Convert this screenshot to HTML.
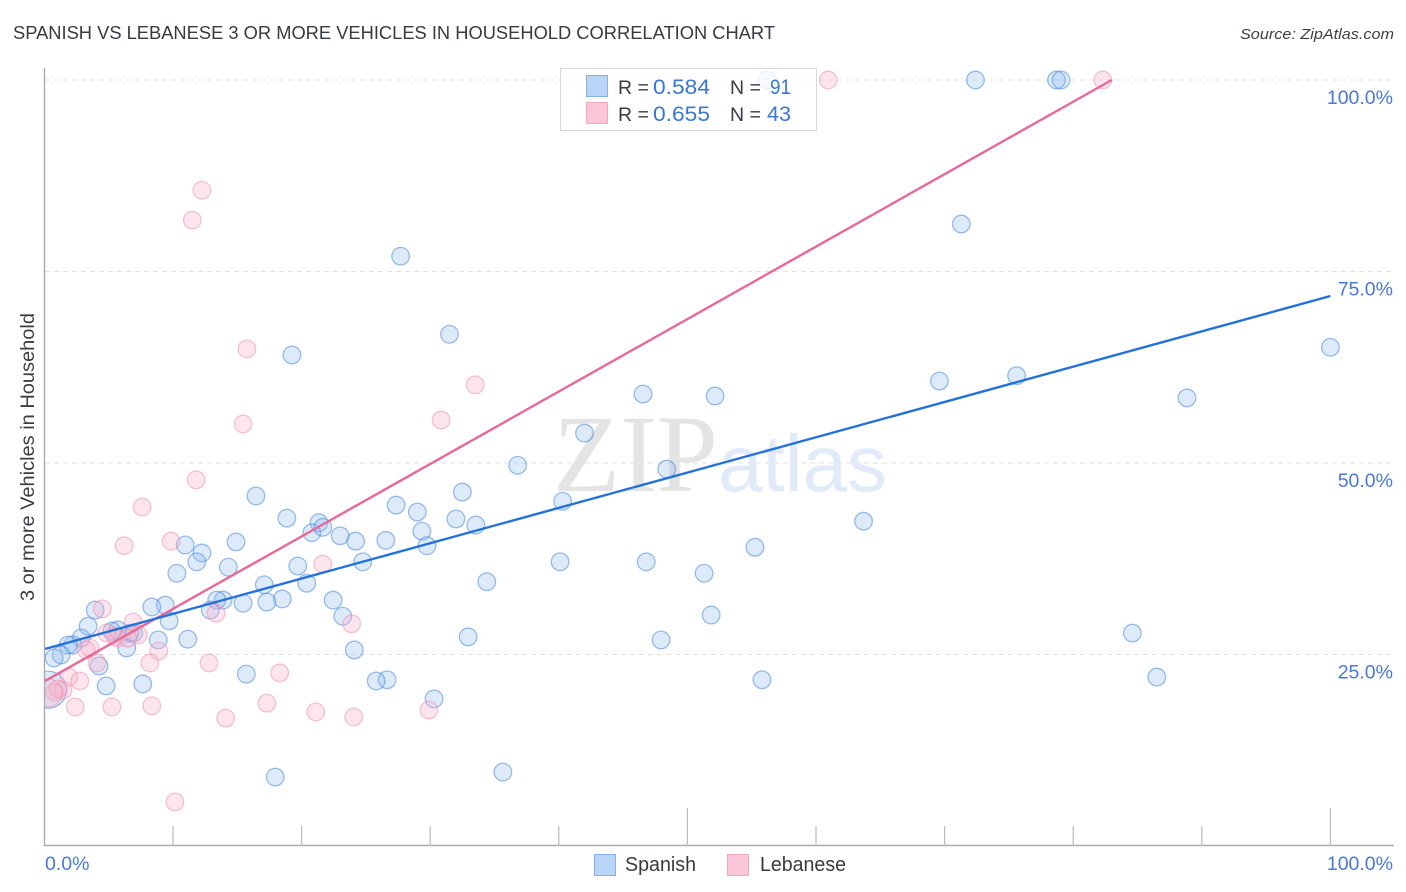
<!DOCTYPE html>
<html lang="en">
<head>
<meta charset="utf-8">
<title>Spanish vs Lebanese 3 or More Vehicles in Household Correlation Chart</title>
<style>
html,body{margin:0;padding:0;background:#fff;width:1406px;height:892px;overflow:hidden}
svg{display:block;font-family:"Liberation Sans","DejaVu Sans",sans-serif}
</style>
</head>
<body>
<svg id="chart" xmlns="http://www.w3.org/2000/svg" width="1406" height="892" viewBox="0 0 1406 892">
  <defs>
    <clipPath id="plot-clip"><rect x="44.5" y="60" width="1350" height="786"/></clipPath>
  </defs>
  <rect x="0" y="0" width="1406" height="892" fill="#fff"/>
  <text x="13" y="39" font-size="18.5" fill="#363a42" textLength="762" lengthAdjust="spacingAndGlyphs">SPANISH VS LEBANESE 3 OR MORE VEHICLES IN HOUSEHOLD CORRELATION CHART</text>
  <text x="1394" y="39" font-size="15" font-style="italic" fill="#3a3f47" text-anchor="end" textLength="154" lengthAdjust="spacingAndGlyphs">Source: ZipAtlas.com</text>
  <g id="grid"></g>
  <g>
    <text x="553" y="491" font-family="'Liberation Serif',serif" font-size="110" fill="#e4e4e4">ZIP</text>
    <text x="718" y="491" font-size="80" fill="#e1eaf8" font-family="'Liberation Sans',sans-serif">atlas</text>
  </g>
  <g id="points" clip-path="url(#plot-clip)"></g>
  <g id="trends"></g>
  <g id="axes"></g>
  <text transform="translate(34,457) rotate(-90)" font-size="19.5" fill="#3a3e45" text-anchor="middle" textLength="288" lengthAdjust="spacingAndGlyphs">3 or more Vehicles in Household</text>

  <g>
    <rect x="560.5" y="68.5" width="256" height="62" fill="#fff" fill-opacity="0.82" stroke="#d8d8d8"/>
    <rect x="586.5" y="75.5" width="21" height="21" fill="#b9d4f6" stroke="#86b0e6"/>
    <rect x="586.5" y="102.5" width="21" height="21" fill="#fbc6d8" stroke="#f3a7c0"/>
    <text x="618" y="94" font-size="19.5" fill="#363a42">R =</text>
    <text x="653" y="94" font-size="21" fill="#3a76d4" textLength="57" lengthAdjust="spacingAndGlyphs">0.584</text>
    <text x="730" y="94" font-size="19.5" fill="#363a42">N =</text>
    <text x="770" y="94" font-size="21" fill="#3a76d4" textLength="21" lengthAdjust="spacingAndGlyphs">91</text>
    <text x="618" y="121" font-size="19.5" fill="#363a42">R =</text>
    <text x="653" y="121" font-size="21" fill="#3a76d4" textLength="57" lengthAdjust="spacingAndGlyphs">0.655</text>
    <text x="730" y="121" font-size="19.5" fill="#363a42">N =</text>
    <text x="767" y="121" font-size="21" fill="#3a76d4" textLength="24" lengthAdjust="spacingAndGlyphs">43</text>
  </g>

  <g>
    <rect x="594.5" y="854.5" width="21" height="21" fill="#b9d4f6" stroke="#86b0e6"/>
    <text x="625" y="871" font-size="20" fill="#363a42" textLength="71" lengthAdjust="spacingAndGlyphs">Spanish</text>
    <rect x="727.5" y="854.5" width="21" height="21" fill="#fbc6d8" stroke="#f3a7c0"/>
    <text x="760" y="871" font-size="20" fill="#363a42" textLength="86" lengthAdjust="spacingAndGlyphs">Lebanese</text>
  </g>
</svg>
<script>
const xTickValues = [0,10,20,30,40,50,60,70,80,90,100];
const xTickLabels = ["0.0%","100.0%"];
const yTickValues = [100,75,50,25];
const yTickLabels = ["100.0%","75.0%","50.0%","25.0%"];

const spanishX = [100,88.85,75.6,69.6,71.3,72.4,78.7,79.05,56.2,27.7,31.5,19.25,46.55,52.15,42,36.8,48.4,40.3,32.5,16.45,27.35,29,32,33.55,18.85,21.35,20.8,21.65,23,24.2,26.55,29.35,29.75,24.75,14.9,10.95,12.25,11.85,10.3,14.3,19.7,17.1,20.4,34.4,40.1,46.8,55.25,51.3,63.7,51.85,47.95,84.6,86.5,55.8,30.3,26.65,25.8,32.95,24.1,15.7,17.95,35.65,23.2,22.45,18.5,17.3,15.45,13.9,13.4,12.9,11.15,9.7,9.4,8.35,8.85,7.65,4.8,4.25,6.4,6.95,5.7,5.25,3.4,3.95,2.85,2.2,1.85,1.3,0.75,6.65];
const spanishY = [65.1,58.5,61.4,60.7,81.2,100,100,100,100,77,66.8,64.1,59,58.75,53.9,49.7,49.2,45,46.2,45.7,44.5,43.6,42.7,41.9,42.8,42.2,40.9,41.6,40.5,39.8,39.9,41.1,39.2,37.1,39.7,39.3,38.25,37.1,35.6,36.4,36.55,34.1,34.3,34.5,37.1,37.1,39,35.6,42.4,30.15,26.9,27.8,22.05,21.7,19.2,21.7,21.55,27.3,25.6,22.45,9,9.65,30,32.1,32.25,31.85,31.7,32.1,32.1,30.8,27,29.4,31.45,31.2,26.9,21.15,20.9,23.5,25.85,27.8,28.2,28.05,28.7,30.8,27.15,26.25,26.25,24.95,24.55,27.8];
const lebaneseX = [60.95,82.3,12.25,11.5,15.75,33.5,30.85,15.45,11.8,7.6,9.85,6.2,21.65,4.5,13.35,23.9,6.9,7.3,5.7,4.85,5.5,6.5,3.55,3.25,8.9,4.1,8.2,12.8,18.3,1.9,2.75,2.4,5.25,8.35,17.3,14.1,21.1,24.05,29.9,10.15,1.45,0.8,1.05];
const lebaneseY = [100,100,85.6,81.7,64.9,60.2,55.6,55.1,47.8,44.25,39.8,39.2,36.8,30.95,30.4,29,29.25,27.55,27.15,27.8,27.4,27.15,25.85,25.6,25.45,23.9,23.9,23.9,22.6,22.05,21.55,18.15,18.15,18.3,18.65,16.7,17.5,16.85,17.75,5.75,20.35,20.1,20.5];
const spanishClusterX = [0.3];
const spanishClusterY = [20.4];
const lebaneseClusterX = [0.3];
const lebaneseClusterY = [20];
const spanishTrendX = [0,100];
const spanishTrendY = [25.7,71.8];
const lebaneseTrendX = [0,83];
const lebaneseTrendY = [21.5,100];

const NS = 'http://www.w3.org/2000/svg';
const sx = v => 44.4 + v * 12.86;
const sy = v => 846 - v * 7.66;
function make(tag, attrs, parent, text) {
  const el = document.createElementNS(NS, tag);
  for (const k in attrs) el.setAttribute(k, attrs[k]);
  if (text !== undefined) el.textContent = text;
  parent.appendChild(el);
  return el;
}
const grid = document.getElementById('grid');
const axes = document.getElementById('axes');
const points = document.getElementById('points');
const trends = document.getElementById('trends');

yTickValues.forEach((v, i) => {
  const line = make('line', {x1:45, x2:1393, y1:sy(v), y2:sy(v), stroke:'#e2e2e2', 'stroke-width':1, 'stroke-dasharray':'5 4'}, grid);
  
  
  const label = make('text', {x:1393, y:sy(v) + 24, 'font-size':19.5, fill:'#4a78d6', 'text-anchor':'end'}, axes, yTickLabels[i]);
  
  
});

const yAxis = make('line', {x1:44.5, x2:44.5, y1:68, y2:846, stroke:'#aaaaaa', 'stroke-width':1.4}, axes);


const xAxis = make('line', {x1:44, x2:1394, y1:845.5, y2:845.5, stroke:'#aaaaaa', 'stroke-width':1.4}, axes);



xTickValues.forEach(v => {
  if (v === 0) return;
  const tall = v === 50 || v === 100;
  const tick = make('line', {x1:sx(v), x2:sx(v), y1:tall ? 808 : 826, y2:846, stroke:'#bbbbbb', 'stroke-width':1.2}, axes);
  
  
});
const xLabelStart = make('text', {x:45, y:870, 'font-size':19.5, fill:'#4a78d6'}, axes, xTickLabels[0]);


const xLabelEnd = make('text', {x:1393, y:870, 'font-size':19.5, fill:'#4a78d6', 'text-anchor':'end'}, axes, xTickLabels[1]);



const blueStyle = {fill:'#8db8f0', 'fill-opacity':0.3, stroke:'#4a88dc', 'stroke-opacity':0.55, 'stroke-width':1.3};
const pinkStyle = {fill:'#f9b4ca', 'fill-opacity':0.34, stroke:'#ef8bac', 'stroke-opacity':0.5, 'stroke-width':1.3};

spanishX.forEach((v, i) => {
  const c = make('circle', Object.assign({cx:sx(v), cy:sy(spanishY[i]), r:8.8}, blueStyle), points);
  
  
});
spanishClusterX.forEach((v, i) => {
  const c = make('circle', Object.assign({cx:sx(v), cy:sy(spanishClusterY[i]), r:18.5}, blueStyle), points);
  
  
});
lebaneseX.forEach((v, i) => {
  const c = make('circle', Object.assign({cx:sx(v), cy:sy(lebaneseY[i]), r:8.8}, pinkStyle), points);
  
  
});
lebaneseClusterX.forEach((v, i) => {
  const c = make('circle', Object.assign({cx:sx(v), cy:sy(lebaneseClusterY[i]), r:14}, pinkStyle), points);
  
  
});

const pinkLine = make('line', {x1:sx(lebaneseTrendX[0]), y1:sy(lebaneseTrendY[0]), x2:sx(lebaneseTrendX[1]), y2:sy(lebaneseTrendY[1]), stroke:'#e9689a', 'stroke-width':2.4}, trends);


const blueLine = make('line', {x1:sx(spanishTrendX[0]), y1:sy(spanishTrendY[0]), x2:sx(spanishTrendX[1]), y2:sy(spanishTrendY[1]), stroke:'#2272d8', 'stroke-width':2.4}, trends);


</script>
</body>
</html>
